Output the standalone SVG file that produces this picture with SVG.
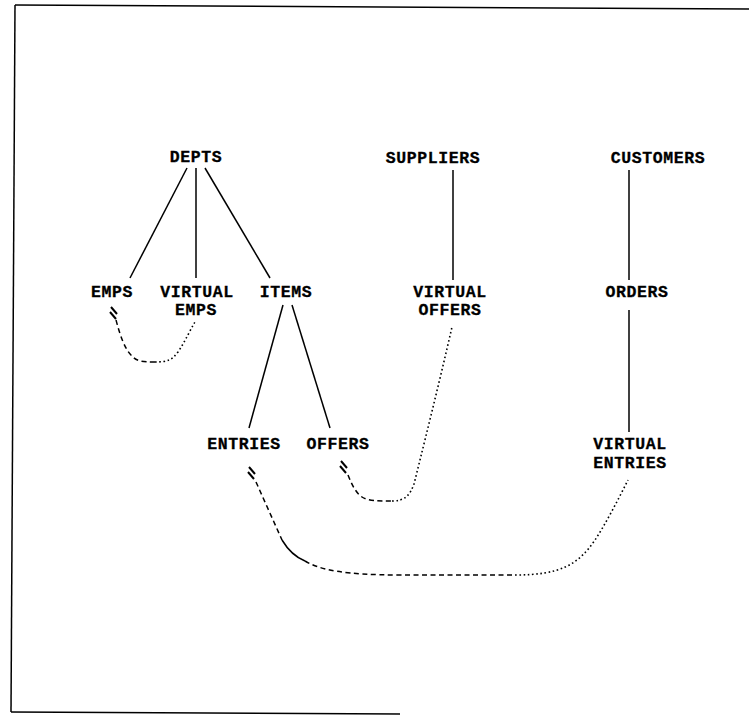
<svg xmlns="http://www.w3.org/2000/svg" width="749" height="718" viewBox="0 0 749 718">
<style>
text{font-family:"Liberation Mono","DejaVu Sans Mono",monospace;font-weight:bold;font-size:16.5px;letter-spacing:0.6px;fill:#000;text-anchor:middle;stroke:#000;stroke-width:0.3}
.e{stroke:#000;stroke-width:1.5;fill:none}
.d{stroke:#000;stroke-width:1.5;fill:none;stroke-dasharray:5 3.5}
.o{stroke:#000;stroke-width:1.6;fill:none;stroke-dasharray:1.6 2.6}
.h{stroke:#000;stroke-width:2;fill:none}
</style>
<rect width="749" height="718" fill="#fff"/>
<g id="frame">
<path class="e" d="M15,5 L749,9"/>
<path class="e" d="M15,5 L11,712"/>
<path class="e" d="M11,712 L400,714"/>
</g>
<g id="connectors">
<path class="e" d="M187,168 L130,278"/>
<path class="e" d="M196,168 L196,278"/>
<path class="e" d="M205,168 L270,278"/>
<path class="e" d="M453,170 L453,280"/>
<path class="e" d="M629,170 L629,280"/>
<path class="e" d="M629,310 L629,432"/>
<path class="e" d="M283,305 L249,428"/>
<path class="e" d="M292,305 L330,428"/>
<path class="d" d="M116,320 C120,335 125,350 132,356 C136,361 142,362 155,362"/>
<path class="o" d="M155,362 C168,362 172,360 178,352 C186,340 190,330 195,322"/>
<path class="h" d="M111,307 L117,314 M110,312 L116,319"/>
<path class="d" d="M348,475 C352,485 356,493 362,497 C368,501 378,501 392,501"/>
<path class="o" d="M392,501 C405,501 410,495 414,484 C420,460 440,380 452,327"/>
<path class="h" d="M341,461 L347,468 M340,466 L346,473"/>
<path class="d" d="M256,482 L282,540"/>
<path class="e" d="M282,540 C288,550 295,557 305,561"/>
<path class="d" d="M305,561 C320,570 345,575 400,575 L515,575"/>
<path class="o" d="M515,575 C560,575 578,565 595,540 C605,525 618,500 628,480"/>
<path class="h" d="M249,467 L255,474 M248,472 L254,479"/>
</g>
<g id="DEPTS"><text x="196" y="162">DEPTS</text></g>
<g id="SUPPLIERS"><text x="433" y="163">SUPPLIERS</text></g>
<g id="CUSTOMERS"><text x="658" y="163">CUSTOMERS</text></g>
<g id="EMPS"><text x="112" y="297">EMPS</text></g>
<g id="VIRTUAL_EMPS"><text x="197" y="297">VIRTUAL</text><text x="196" y="315">EMPS</text></g>
<g id="ITEMS"><text x="286" y="297">ITEMS</text></g>
<g id="VIRTUAL_OFFERS"><text x="450" y="297">VIRTUAL</text><text x="450" y="315">OFFERS</text></g>
<g id="ORDERS"><text x="637" y="297">ORDERS</text></g>
<g id="ENTRIES"><text x="244" y="449">ENTRIES</text></g>
<g id="OFFERS"><text x="338" y="449">OFFERS</text></g>
<g id="VIRTUAL_ENTRIES"><text x="630" y="449">VIRTUAL</text><text x="630" y="468">ENTRIES</text></g>
</svg>
